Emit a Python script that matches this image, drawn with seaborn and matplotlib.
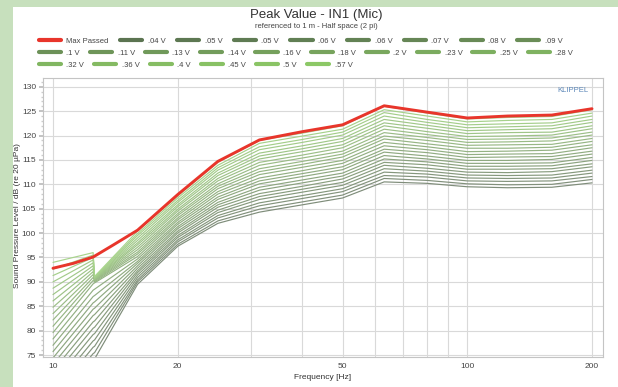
import matplotlib
matplotlib.use("Agg")
import matplotlib.pyplot as plt
import seaborn as sns
import pandas as pd
from matplotlib.lines import Line2D
from matplotlib.patches import Rectangle
from matplotlib.ticker import FixedLocator, MultipleLocator, NullFormatter
from matplotlib import font_manager

# ---------------- data ----------------
freq_hz = [10, 12.5, 12.6, 16, 20, 25, 31.5, 40, 50, 63, 80, 100, 125, 160, 200]

volt_labels = [".04 V", ".05 V", ".05 V", ".06 V", ".06 V", ".07 V", ".08 V", ".09 V",
               ".1 V", ".11 V", ".13 V", ".14 V", ".16 V", ".18 V", ".2 V", ".23 V",
               ".25 V", ".28 V", ".32 V", ".36 V", ".4 V", ".45 V", ".5 V", ".57 V"]

spl_04 = [64.0, 74.0, 74.2, 89.5, 97.3, 102.0, 104.3, 105.8, 107.2, 110.5, 110.2, 109.5, 109.3, 109.4, 110.3]
spl_05a = [65.3, 75.3, 75.5, 90.0, 97.7, 102.5, 104.9, 106.4, 107.8, 111.2, 110.8, 110.1, 109.9, 110.0, 111.0]
spl_05b = [66.6, 76.6, 76.8, 90.4, 98.2, 103.1, 105.6, 107.1, 108.5, 111.8, 111.5, 110.7, 110.6, 110.7, 111.6]
spl_06a = [67.9, 77.9, 78.1, 90.9, 98.6, 103.6, 106.2, 107.7, 109.1, 112.5, 112.1, 111.3, 111.2, 111.3, 112.3]
spl_06b = [69.2, 79.2, 79.4, 91.4, 99.1, 104.2, 106.9, 108.4, 109.8, 113.2, 112.7, 111.9, 111.8, 111.9, 112.9]
spl_07 = [70.5, 80.5, 80.7, 91.9, 99.5, 104.7, 107.5, 109.0, 110.4, 113.9, 113.3, 112.5, 112.4, 112.6, 113.6]
spl_08 = [71.8, 81.8, 82.0, 92.3, 100.0, 105.3, 108.1, 109.6, 111.1, 114.5, 114.0, 113.1, 113.1, 113.2, 114.2]
spl_09 = [73.1, 83.1, 83.3, 92.8, 100.4, 105.8, 108.8, 110.3, 111.7, 115.2, 114.6, 113.7, 113.7, 113.8, 114.9]
spl_10 = [74.4, 84.4, 84.6, 93.3, 100.9, 106.3, 109.4, 110.9, 112.3, 115.9, 115.2, 114.3, 114.3, 114.4, 115.5]
spl_11 = [75.7, 85.7, 85.9, 93.8, 101.3, 106.9, 110.1, 111.6, 113.0, 116.6, 115.8, 114.9, 114.9, 115.1, 116.2]
spl_13 = [77.0, 87.0, 87.2, 94.2, 101.8, 107.4, 110.7, 112.2, 113.6, 117.2, 116.5, 115.5, 115.6, 115.7, 116.8]
spl_14 = [78.3, 88.3, 88.5, 94.7, 102.2, 108.0, 111.3, 112.8, 114.3, 117.9, 117.1, 116.1, 116.2, 116.3, 117.5]
spl_16 = [79.6, 89.6, 89.8, 95.2, 102.7, 108.5, 112.0, 113.5, 114.9, 118.6, 117.7, 116.7, 116.8, 117.0, 118.1]
spl_18 = [80.9, 90.3, 90.0, 95.7, 103.1, 109.1, 112.6, 114.1, 115.6, 119.3, 118.3, 117.4, 117.4, 117.6, 118.8]
spl_20 = [82.2, 90.9, 90.2, 96.1, 103.6, 109.6, 113.2, 114.7, 116.2, 119.9, 119.0, 118.0, 118.1, 118.2, 119.4]
spl_23 = [83.5, 91.5, 90.3, 96.6, 104.0, 110.1, 113.9, 115.4, 116.8, 120.6, 119.6, 118.6, 118.7, 118.9, 120.1]
spl_25 = [84.8, 92.1, 90.4, 97.1, 104.5, 110.7, 114.5, 116.0, 117.5, 121.3, 120.2, 119.2, 119.3, 119.5, 120.7]
spl_28 = [86.1, 92.7, 90.5, 97.6, 104.9, 111.2, 115.2, 116.7, 118.1, 122.0, 120.8, 119.8, 119.9, 120.1, 121.4]
spl_32 = [87.4, 93.3, 90.6, 98.0, 105.4, 111.8, 115.8, 117.3, 118.8, 122.6, 121.5, 120.4, 120.6, 120.7, 122.0]
spl_36 = [88.7, 93.9, 90.7, 98.5, 105.8, 112.3, 116.4, 117.9, 119.4, 123.3, 122.1, 121.0, 121.2, 121.4, 122.7]
spl_40 = [90.0, 94.5, 90.8, 99.0, 106.3, 112.9, 117.1, 118.6, 120.1, 124.0, 122.7, 121.6, 121.8, 122.0, 123.3]
spl_45 = [91.3, 95.0, 90.9, 99.5, 106.7, 113.4, 117.7, 119.2, 120.7, 124.7, 123.3, 122.2, 122.4, 122.6, 124.0]
spl_50 = [92.6, 95.5, 91.0, 99.9, 107.2, 113.9, 118.4, 119.9, 121.3, 125.3, 124.0, 122.8, 123.1, 123.3, 124.6]
spl_57 = [94.0, 96.0, 91.1, 100.4, 107.6, 114.5, 119.0, 120.5, 122.0, 126.0, 124.6, 123.4, 123.7, 123.9, 125.3]

max_freq_hz = [10, 11.2, 12.5, 14, 16, 20, 25, 31.5, 40, 50, 63, 80, 100, 125, 160, 200]
max_passed_spl = [92.8, 93.8, 95.1, 97.6, 100.6, 107.9, 114.7, 119.1, 120.8, 122.2, 126.1,
                  124.8, 123.6, 124.0, 124.2, 125.5]

curves = [spl_04, spl_05a, spl_05b, spl_06a, spl_06b, spl_07, spl_08, spl_09, spl_10, spl_11,
          spl_13, spl_14, spl_16, spl_18, spl_20, spl_23, spl_25, spl_28, spl_32, spl_36,
          spl_40, spl_45, spl_50, spl_57]

x_tick_pos = [10, 20, 30, 40, 50, 60, 70, 80, 90, 100, 200]
x_tick_lab = ["10", "20", "", "", "50", "", "", "", "", "100", "200"]
y_ticks = [75, 80, 85, 90, 95, 100, 105, 110, 115, 120, 125, 130]

# ---------------- styling ----------------
sns.set_theme(style="white")
names = {f.name for f in font_manager.fontManager.ttflist}
base_font = "Liberation Sans Narrow" if "Liberation Sans Narrow" in names else "Liberation Sans"
plt.rcParams["font.family"] = [base_font, "DejaVu Sans"]

W, H = 618, 387
fig = plt.figure(figsize=(W / 100, H / 100), dpi=100)
fig.patch.set_facecolor("#c7e0bd")
fig.add_artist(Rectangle((13 / W, 0), 1, 1 - 7 / H, transform=fig.transFigure,
                         facecolor="white", edgecolor="none", zorder=0))

ax = fig.add_axes([43 / W, 1 - 357 / H, 560 / W, (357 - 77.5) / H])

rows = []
keys = []
for i, c in enumerate(curves):
    key = f"c{i:02d}"
    keys.append(key)
    for f, v in zip(freq_hz, c):
        rows.append({"freq": f, "spl": v, "curve": key})
df = pd.DataFrame(rows)

pal = sns.blend_palette(["#5b7451", "#8cc866"], len(curves))
line_pal = sns.blend_palette(["#7f8d7a", "#a8d48c"], len(curves))
sns.lineplot(data=df, x="freq", y="spl", hue="curve", hue_order=keys,
             palette=line_pal, estimator=None, sort=False, legend=False,
             linewidth=0.85, ax=ax, zorder=2)
red = "#e8352b"
sns.lineplot(x=max_freq_hz, y=max_passed_spl, color=red, linewidth=2.1,
             estimator=None, sort=False, ax=ax, zorder=5)

ax.set_xscale("log")
ax.set_xlim(9.46, 212.6)
ax.set_ylim(74.6, 131.9)
ax.xaxis.set_major_locator(FixedLocator(x_tick_pos))
ax.set_xticklabels(x_tick_lab)
ax.xaxis.set_minor_formatter(NullFormatter())
ax.xaxis.set_minor_locator(FixedLocator([]))
ax.set_yticks(y_ticks)
ax.yaxis.set_minor_locator(MultipleLocator(1))
ax.grid(True, which="major", color="#d9d9d9", linewidth=0.8)
ax.tick_params(axis="x", length=0, labelsize=6, labelcolor="#444444", pad=4)
ax.tick_params(axis="y", which="major", length=3, color="#bbbbbb", labelsize=6,
               labelcolor="#444444", pad=2, left=True)
ax.tick_params(axis="y", which="minor", length=1.5, color="#cccccc", left=True)
for s in ax.spines.values():
    s.set_color("#c4c4c4")
    s.set_linewidth(0.8)

ax.set_xlabel("Frequency [Hz]", fontsize=6, color="#333333", labelpad=3)
ax.set_ylabel("")
fig.text(18 / W, 1 - 216 / H, "Sound Pressure Level / dB (re 20 µPa)", rotation=90,
         ha="center", va="center", fontsize=6, color="#333333")

fig.text(316 / W, 1 - 15 / H, "Peak Value - IN1 (Mic)", ha="center", va="center",
         fontsize=9.5, color="#333333")
fig.text(316 / W, 1 - 27 / H, "referenced to 1 m - Half space (2 pi)", ha="center",
         va="center", fontsize=5.5, color="#444444")
ax.text(0.975, 0.965, "KLIPPEL", transform=ax.transAxes, ha="right", va="top",
        fontsize=5.5, color="#5a86b8")

# ---------------- legends ----------------
handles = [Line2D([], [], color=red, linewidth=3)] + \
          [Line2D([], [], color=pal[i], linewidth=3) for i in range(len(curves))]
labels = ["Max Passed"] + volt_labels
row_slices = [(0, 9, 41, 1.5), (9, 19, 53, 1.3), (19, 25, 65, 1.3)]
for a, b, y, cs in row_slices:
    lg = fig.legend(handles[a:b], labels[a:b], loc="center left",
                    bbox_to_anchor=(39 / W, 1 - y / H), ncol=b - a, frameon=False,
                    fontsize=5.5, handlelength=2.9, handletextpad=0.7,
                    columnspacing=cs, borderaxespad=0, borderpad=0)
    for t in lg.get_texts():
        t.set_color("#444444")

fig.savefig("out.png", dpi=100, facecolor=fig.get_facecolor())
